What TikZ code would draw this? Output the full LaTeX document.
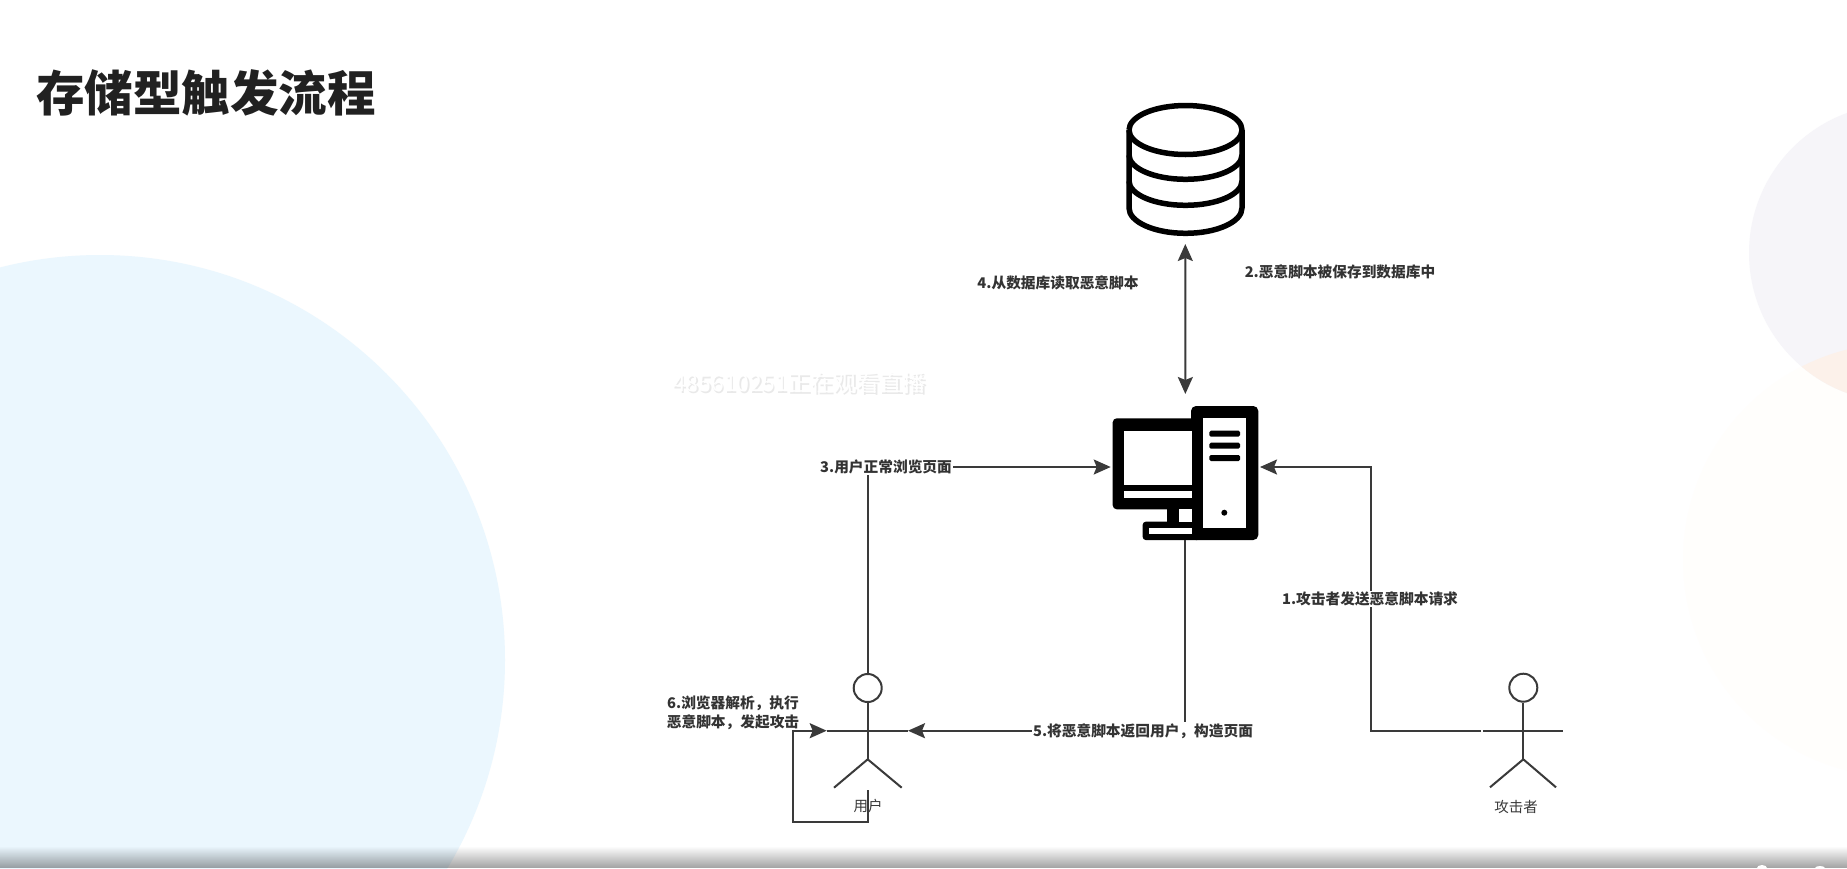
\documentclass[tikz,border=0pt]{standalone}
\usepackage{fontspec}
\setmainfont{Noto Sans CJK SC}
\usetikzlibrary{arrows.meta}
\definecolor{linec}{HTML}{3A3A3A}
\definecolor{lblc}{HTML}{333333}
\definecolor{leftc}{HTML}{EBF7FE}
\definecolor{rightc}{HTML}{F6F5F9}
\definecolor{peach}{HTML}{FCF1EA}
\definecolor{peachpale}{HTML}{FFFEFC}
\definecolor{markshadow}{HTML}{E9E9E9}
\tikzset{
  conn/.style={draw=linec,line width=2pt,-{Stealth[length=17pt,width=15pt,inset=3pt]}},
  both/.style={draw=linec,line width=2pt,{Stealth[length=17pt,width=15pt,inset=3pt]}-{Stealth[length=17pt,width=15pt,inset=3pt]}},
  lbl/.style={font=\fontsize{14.7pt}{19pt}\selectfont\bfseries,text=lblc,fill=white,inner sep=1pt,align=center},
  lblnofill/.style={font=\fontsize{14.7pt}{19pt}\selectfont\bfseries,text=lblc,inner sep=0pt,align=center},
  actorlbl/.style={font=\fontsize{14.5pt}{18pt}\selectfont,text=linec,inner sep=0pt},
  head/.style={circle,draw=linec,line width=2pt,minimum size=28pt,inner sep=0pt},
  limb/.style={draw=linec,line width=2pt},
  iconbox/.style={inner sep=0pt,outer sep=0pt},
  dbline/.style={draw=black,line width=5.5pt,line join=round},
}
\begin{document}
\begin{tikzpicture}[x=1pt,y=-1pt]
\clip (0,0) rectangle (1847,868);
\fill[white] (0,0) rectangle (1847,868);
% background discs
\fill[leftc] (100,660) circle[radius=405];
\fill[peachpale] (1900,560) circle[radius=217];
\fill[rightc] (1898,253) circle[radius=149];
\begin{scope}
  \clip (1898,253) circle[radius=149];
  \fill[peach] (1900,560) circle[radius=217];
\end{scope}
% title
\node[iconbox,anchor=west,font=\fontsize{48.5pt}{52pt}\selectfont\bfseries,text=black!87] (title) at (36,93) {存储型触发流程};
% watermark: white text with a soft grey shadow
\node[iconbox,font=\fontsize{23pt}{26pt}\selectfont,text=markshadow] (markshade) at (801,385) {485610251正在观看直播};
\node[iconbox,font=\fontsize{23pt}{26pt}\selectfont,text=white] (mark) at (799.5,383) {485610251正在观看直播};
% icon anchors
\node[iconbox,minimum width=119pt,minimum height=141pt] (db) at (1185.3,173.5) {};
\node[iconbox,minimum width=149.3pt,minimum height=146pt] (pc) at (1185.35,467) {};
% database
\draw[dbline] (1129,130) arc[x radius=56.5,y radius=24.5,start angle=180,end angle=-180];
\draw[dbline] (1129,130) -- (1129,208) arc[x radius=56.5,y radius=25.3,start angle=180,end angle=0] -- (1242,130);
\draw[dbline] (1129,155) arc[x radius=56.5,y radius=24.3,start angle=180,end angle=0];
\draw[dbline] (1129,181) arc[x radius=56.5,y radius=24.3,start angle=180,end angle=0];
% computer
\fill[black,rounded corners=4pt] (1112.7,418.3) rectangle (1195,509.3);
\fill[black] (1167.3,505) rectangle (1179,525);
\fill[black,rounded corners=3pt] (1142.7,521.7) rectangle (1200,540);
\fill[black,rounded corners=5pt] (1191,406) rectangle (1258.3,540);
\fill[white] (1124.3,430.7) rectangle (1191.7,485);
\fill[white] (1124.3,491) rectangle (1191.7,497.7);
\fill[white] (1179,509.3) rectangle (1191.7,521.7);
\fill[white] (1148.7,527.7) rectangle (1191.7,534);
\fill[white] (1203.3,418.3) rectangle (1246,527.7);
\fill[black,rounded corners=1.5pt] (1209.3,430.7) rectangle (1240,436.7);
\fill[black,rounded corners=1.5pt] (1209.3,442.7) rectangle (1240,448.7);
\fill[black,rounded corners=1.5pt] (1209.3,455) rectangle (1240,461);
\fill[black] (1224.3,512.7) circle[radius=3];
% user actor
\node[head] (uhead) at (867.7,688) {};
\coordinate (uhip) at (867.7,759.3);
\coordinate (uarmL) at (826.7,730.7);
\coordinate (uarmR) at (908,730.7);
\coordinate (ulegL) at (834,787.7);
\coordinate (ulegR) at (901.7,787.7);
\coordinate (ufoot) at (867.7,790);
\draw[limb] (uhead.south) -- (uhip);
\draw[limb] (uarmL) -- (uarmR);
\draw[limb] (ulegL) -- (uhip) -- (ulegR);
\node[actorlbl] (ulabel) at (868,806) {用户};
% attacker actor
\node[head] (ahead) at (1523.3,687.7) {};
\coordinate (ahip) at (1523.3,759.3);
\coordinate (aarmL) at (1483.3,730.7);
\coordinate (aarmR) at (1562.7,730.7);
\coordinate (alegL) at (1490,787.3);
\coordinate (alegR) at (1556,787.3);
\coordinate (aout) at (1481,730.7);
\draw[limb] (ahead.south) -- (ahip);
\draw[limb] (aarmL) -- (aarmR);
\draw[limb] (alegL) -- (ahip) -- (alegR);
\node[actorlbl] (alabel) at (1516,807) {攻击者};
% connectors
\draw[both] (db.south) -- (pc.north);
\draw[conn] (uhead.north) |- (pc.west);
\draw[conn] (aout) -| (1371,467) -- (pc.east);
\draw[conn] (pc.south) |- (uarmR);
\coordinate (loopB) at (867.7,821.7);
\coordinate (loopL) at (792.7,821.7);
\coordinate (loopT) at (792.7,730.7);
\draw[conn] (ufoot) -- (loopB) -- (loopL) -- (loopT) -- (uarmL);
% labels
\node[lblnofill] (l4) at (1058,283) {4.从数据库读取恶意脚本};
\node[lblnofill] (l2) at (1340,271.5) {2.恶意脚本被保存到数据库中};
\node[lbl] (l3) at (886,467) {3.用户正常浏览页面};
\node[lbl] (l1) at (1370,599) {1.攻击者发送恶意脚本请求};
\node[lbl] (l5) at (1143,731) {5.将恶意脚本返回用户，构造页面};
\node[lblnofill] (l6) at (733,712.5) {6.浏览器解析，执行\\恶意脚本，发起攻击};
% bottom shadow
\foreach \i in {0,...,20}{
  \fill[black,opacity={0.35*(\i+1)/21}] (0,847+\i) rectangle (1847,848+\i);
}
\fill[white] (1762,868) ellipse[x radius=5,y radius=3];
\fill[white] (1820,868) ellipse[x radius=5,y radius=2];
\end{tikzpicture}
\end{document}
